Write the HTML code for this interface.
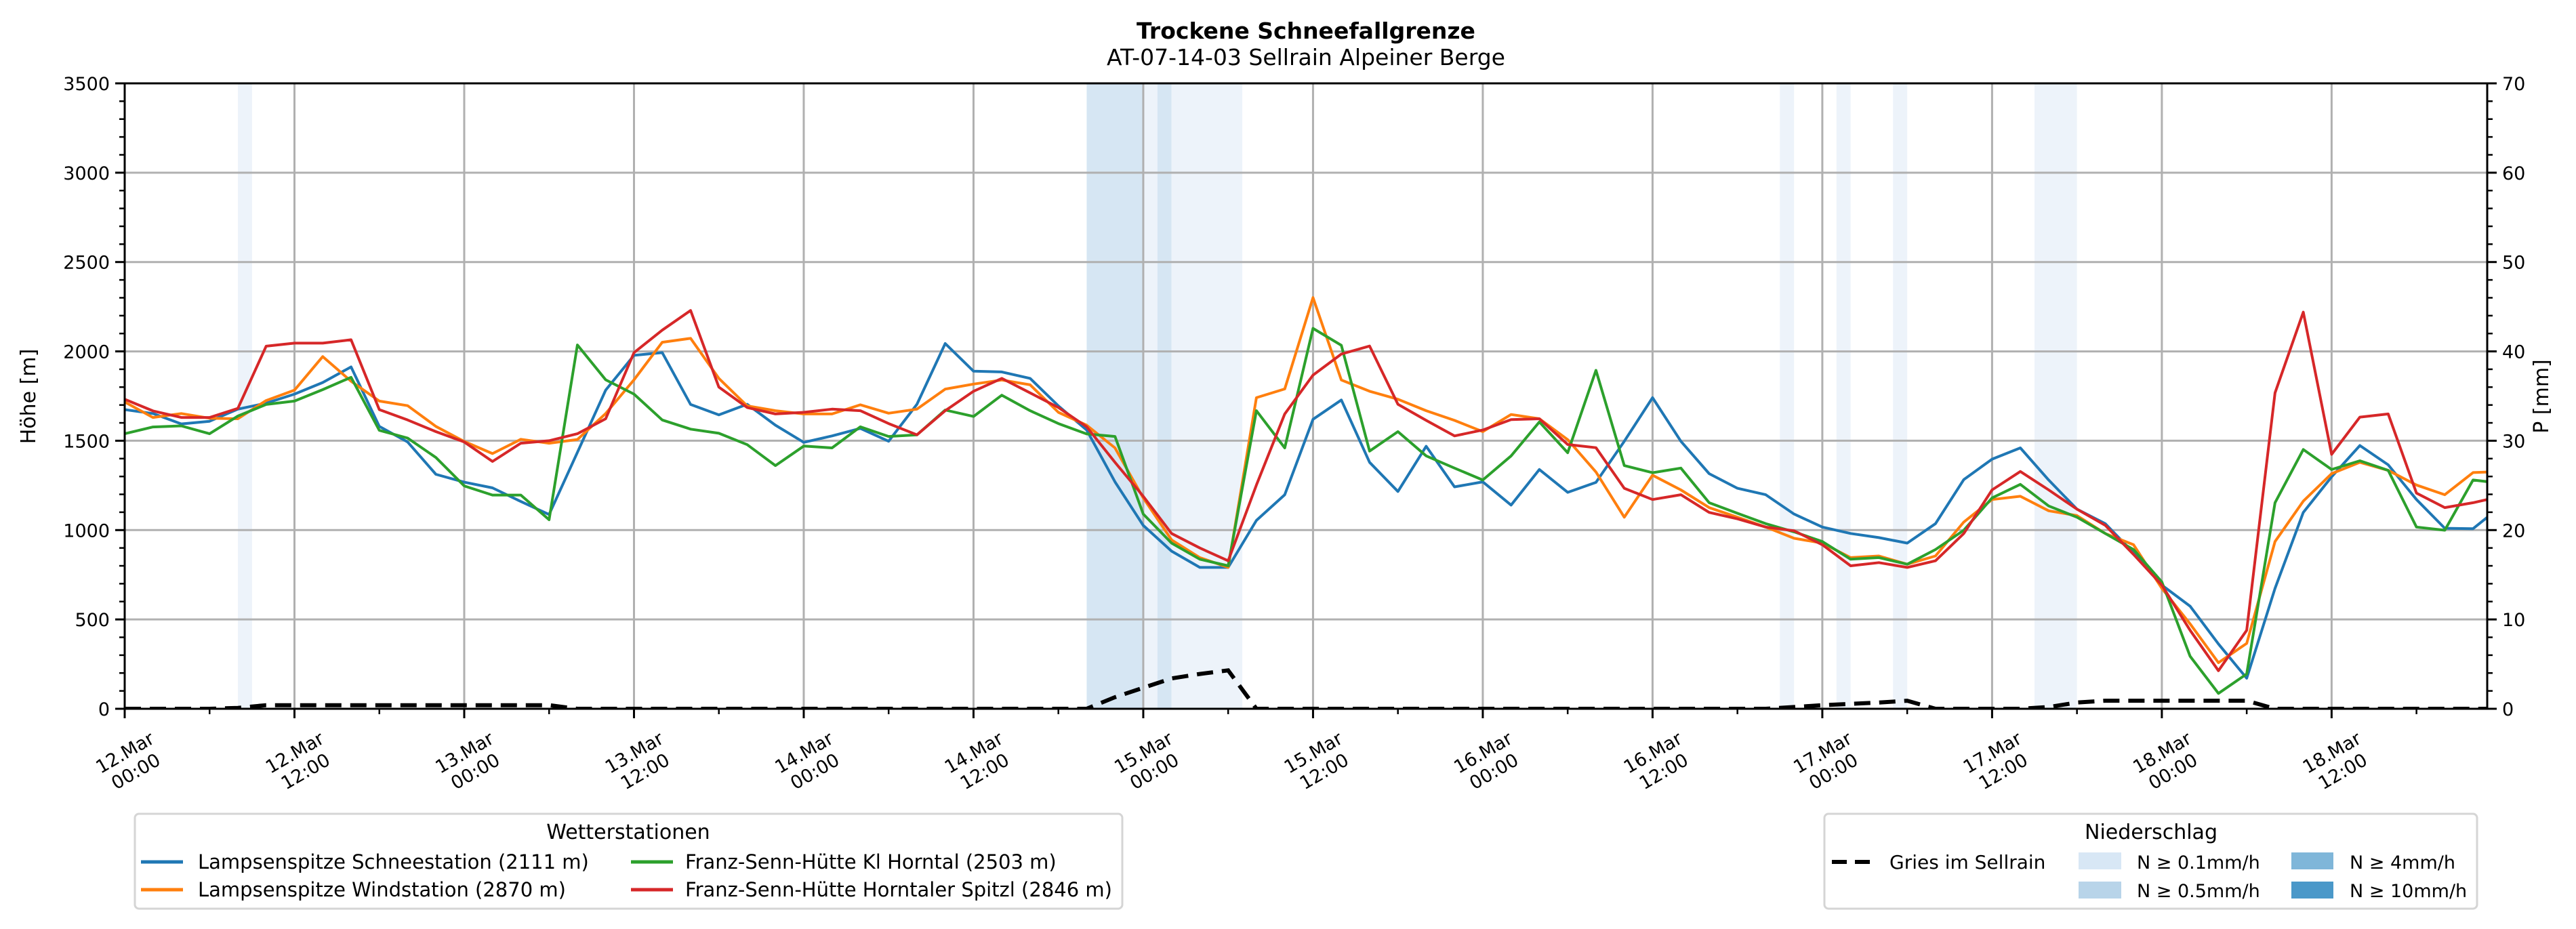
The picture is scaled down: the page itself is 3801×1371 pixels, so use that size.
<!DOCTYPE html>
<html><head><meta charset="utf-8"><style>
html,body{margin:0;padding:0;background:#fff;}
svg{display:block;font-family:"DejaVu Sans","Liberation Sans",sans-serif;}
</style></head><body>
<svg id="chart" width="3801" height="1371" viewBox="0 0 3801 1371" xmlns="http://www.w3.org/2000/svg">
<rect width="3801" height="1371" fill="#fff"/>
<text x="1927" y="57" text-anchor="middle" font-size="33" font-weight="bold">Trockene Schneefallgrenze</text>
<text x="1927" y="96" text-anchor="middle" font-size="33">AT-07-14-03 Sellrain Alpeiner Berge</text>
<defs><clipPath id="plotclip"><rect x="184" y="123" width="3486" height="923"/></clipPath></defs>
<g id="bands" clip-path="url(#plotclip)"></g>
<g id="grid"></g>
<g id="series" clip-path="url(#plotclip)"></g>
<g id="axes"></g>
<text transform="translate(52,585) rotate(-90)" text-anchor="middle" font-size="30">Höhe [m]</text>
<text transform="translate(3760,585) rotate(-90)" text-anchor="middle" font-size="30">P [mm]</text>

<g>
<rect x="199" y="1201" width="1457" height="140" rx="6" fill="#fff" stroke="#d5d5d5" stroke-width="3"/>
<text x="927" y="1238" text-anchor="middle" font-size="30">Wetterstationen</text>
<g><line x1="208" y1="1272" x2="270" y2="1272" stroke="#1f77b4" stroke-width="5"/><text x="292" y="1282" font-size="29">Lampsenspitze Schneestation (2111 m)</text></g>
<g><line x1="208" y1="1313" x2="270" y2="1313" stroke="#ff7f0e" stroke-width="5"/><text x="292" y="1323" font-size="29">Lampsenspitze Windstation (2870 m)</text></g>
<g><line x1="931" y1="1272" x2="993" y2="1272" stroke="#2ca02c" stroke-width="5"/><text x="1011" y="1282" font-size="29">Franz-Senn-Hütte Kl Horntal (2503 m)</text></g>
<g><line x1="931" y1="1313" x2="993" y2="1313" stroke="#d62728" stroke-width="5"/><text x="1011" y="1323" font-size="29">Franz-Senn-Hütte Horntaler Spitzl (2846 m)</text></g>
</g>

<g>
<rect x="2692" y="1201" width="963" height="140" rx="6" fill="#fff" stroke="#d5d5d5" stroke-width="3"/>
<text x="3174" y="1238" text-anchor="middle" font-size="30">Niederschlag</text>
<g><line x1="2703" y1="1272" x2="2763" y2="1272" stroke="#000" stroke-width="6" stroke-dasharray="22 12"/><text x="2788" y="1282" font-size="28">Gries im Sellrain</text></g>
<g><rect x="3067" y="1258" width="63" height="25" fill="#d8e7f5"/><text x="3153" y="1282" font-size="27">N ≥ 0.1mm/h</text></g>
<g><rect x="3067" y="1301" width="63" height="25" fill="#b8d4e9"/><text x="3153" y="1324" font-size="27">N ≥ 0.5mm/h</text></g>
<g><rect x="3381" y="1258" width="62" height="25" fill="#7fb6d9"/><text x="3467" y="1282" font-size="27">N ≥ 4mm/h</text></g>
<g><rect x="3381" y="1301" width="62" height="25" fill="#4a98c9"/><text x="3467" y="1324" font-size="27">N ≥ 10mm/h</text></g>
</g>
</svg>
<script>
// ---- data (2-hourly, starting 12.Mar 00:00) ----
const stepHours = 2;
const blueValues = [1674,1652,1594,1609,1677,1710,1761,1826,1913,1580,1493,1312,1268,1236,1160,1087,1435,1783,1978,1993,1703,1645,1704,1587,1491,1527,1569,1497,1704,2044,1889,1885,1849,1695,1560,1270,1026,882,791,791,1054,1198,1620,1728,1379,1216,1469,1242,1270,1140,1339,1211,1267,1497,1741,1497,1316,1234,1198,1090,1017,981,958,927,1036,1283,1397,1460,1280,1117,1036,873,692,574,363,171,674,1099,1298,1473,1365,1171,1010,1008,1135];
const orangeValues = [1717,1630,1652,1626,1623,1725,1783,1971,1833,1722,1696,1580,1496,1428,1508,1486,1507,1652,1841,2051,2073,1849,1695,1668,1650,1650,1701,1654,1677,1789,1817,1840,1813,1659,1587,1460,1180,945,846,791,1741,1790,2301,1840,1777,1732,1668,1614,1551,1647,1623,1506,1325,1072,1307,1225,1126,1072,1017,954,927,846,855,809,855,1045,1171,1189,1108,1081,981,918,674,475,258,366,936,1162,1316,1379,1334,1252,1198,1322,1328];
const redValues = [1732,1667,1630,1630,1681,2029,2046,2046,2065,1674,1616,1551,1493,1384,1486,1500,1539,1623,1993,2119,2229,1800,1686,1650,1659,1677,1668,1596,1533,1668,1777,1849,1768,1686,1578,1379,1189,981,900,828,1252,1650,1867,1985,2030,1704,1614,1527,1560,1618,1623,1479,1461,1234,1171,1198,1099,1063,1017,996,918,800,818,791,828,981,1225,1328,1225,1117,1027,864,692,439,213,439,1768,2220,1424,1632,1650,1207,1126,1153,1189];
const greenValues = [1539,1577,1583,1539,1638,1703,1722,1786,1855,1558,1515,1406,1247,1196,1196,1058,2036,1841,1761,1616,1565,1542,1478,1361,1470,1460,1578,1524,1533,1672,1636,1755,1668,1596,1538,1524,1090,927,837,800,1668,1460,2129,2034,1442,1551,1415,1347,1280,1415,1605,1433,1894,1361,1321,1347,1153,1094,1036,990,936,837,846,809,891,999,1180,1256,1135,1072,981,891,710,294,86,195,1153,1451,1339,1388,1334,1017,999,1280,1262];
const griesValues = [0,0,0,0,0.1,0.4,0.4,0.4,0.4,0.4,0.4,0.4,0.4,0.4,0.4,0.4,0,0,0,0,0,0,0,0,0,0,0,0,0,0,0,0,0,0,0,1.3,2.35,3.4,3.9,4.3,0,0,0,0,0,0,0,0,0,0,0,0,0,0,0,0,0,0,0,0.2,0.4,0.55,0.7,0.9,0,0,0,0,0.2,0.7,0.9,0.9,0.9,0.9,0.9,0.9,0,0,0,0,0,0,0,0,0];
const bandStarts = [8,68,72,73,74,117,121,125,135];
const bandEnds   = [9,72,73,74,79,118,122,126,138];
const bandLevels = ["0.1","0.5","0.1","0.5","0.1","0.1","0.1","0.1","0.1"];
const xTickLabels = ["12.Mar|00:00","12.Mar|12:00","13.Mar|00:00","13.Mar|12:00","14.Mar|00:00","14.Mar|12:00","15.Mar|00:00","15.Mar|12:00","16.Mar|00:00","16.Mar|12:00","17.Mar|00:00","17.Mar|12:00","18.Mar|00:00","18.Mar|12:00"];
const yTickLabels = ["0","500","1000","1500","2000","2500","3000","3500"];
const y2TickLabels = ["0","10","20","30","40","50","60","70"];

// ---- scales ----
const L=184,R=3670,T=123,B=1046,HMAX=167;
const xs = h => L + h/HMAX*(R-L);
const ys = v => B - v/3500*(B-T);
const y2s = v => B - v/70*(B-T);
const NS="http://www.w3.org/2000/svg";
function mk(tag, attrs, parent){const e=document.createElementNS(NS,tag);for(const k in attrs)e.setAttribute(k,attrs[k]);parent.appendChild(e);return e;}
const bandsG=document.getElementById('bands'), gridG=document.getElementById('grid'), seriesG=document.getElementById('series'), axesG=document.getElementById('axes');
const bandColor={"0.1":"#edf3fa","0.5":"#d6e6f3"};

bandStarts.forEach((s,i)=>{
  const r=mk('rect',{x:xs(s),y:T,width:xs(bandEnds[i])-xs(s),height:B-T,fill:bandColor[bandLevels[i]]},bandsG);
  
  
});
yTickLabels.forEach((lab,i)=>{
  const v=+lab; if(v===0||v===3500) return;
  const g=mk('line',{x1:L,x2:R,y1:ys(v),y2:ys(v),stroke:'#b0b0b0','stroke-width':3},gridG);
  
  
});
xTickLabels.forEach((lab,i)=>{
  if(i===0) return;
  const g=mk('line',{x1:xs(i*12),x2:xs(i*12),y1:T,y2:B,stroke:'#b0b0b0','stroke-width':3},gridG);
  
  
});
function pts(arr,sc){return arr.map((v,i)=>xs(i*stepHours).toFixed(1)+','+sc(v).toFixed(1)).join(' ');}
const ser=[[blueValues,'#1f77b4','series-lampsenspitze-schnee'],[orangeValues,'#ff7f0e','series-lampsenspitze-wind'],[greenValues,'#2ca02c','series-franz-senn-kl-horntal'],[redValues,'#d62728','series-franz-senn-spitzl']];
ser.forEach(s=>{
  const p=mk('polyline',{points:pts(s[0],ys),fill:'none',stroke:s[1],'stroke-width':4,'stroke-linejoin':'round'},seriesG);
  
  
});
const gl=mk('polyline',{points:pts(griesValues,y2s),fill:'none',stroke:'#000','stroke-width':6,'stroke-dasharray':'24 13'},seriesG);


const fr=mk('rect',{x:L,y:T,width:R-L,height:B-T,fill:'none',stroke:'#000','stroke-width':3},axesG);


for(let v=0;v<=3500;v+=100){
  const major=v%500===0;
  const t=mk('line',{x1:L,x2:L-(major?14:8),y1:ys(v),y2:ys(v),stroke:'#000','stroke-width':major?3:2.5},axesG);
  
  
}
yTickLabels.forEach(lab=>{
  const t=mk('text',{x:L-22,y:ys(+lab)+10,'text-anchor':'end','font-size':27},axesG);
  t.textContent=lab;
  
  
});
for(let v=0;v<=70;v+=2){
  const major=v%10===0;
  const t=mk('line',{x1:R,x2:R+(major?14:8),y1:y2s(v),y2:y2s(v),stroke:'#000','stroke-width':major?3:2.5},axesG);
  
  
}
y2TickLabels.forEach(lab=>{
  const t=mk('text',{x:R+22,y:y2s(+lab)+10,'text-anchor':'start','font-size':27},axesG);
  t.textContent=lab;
  
  
});
for(let h=0;h<=HMAX;h+=6){
  const major=h%12===0;
  const t=mk('line',{x1:xs(h),x2:xs(h),y1:B,y2:B+(major?14:8),stroke:'#000','stroke-width':major?3:2.5},axesG);
  
  
}
xTickLabels.forEach((lab,i)=>{
  const parts=lab.split('|');
  const g=mk('g',{transform:'translate('+(xs(i*12)+8)+',1124) rotate(-30)'},axesG);
  
  
  const t1=mk('text',{x:0,y:-6,'text-anchor':'middle','font-size':27},g);t1.textContent=parts[0];
  const t2=mk('text',{x:0,y:26,'text-anchor':'middle','font-size':27},g);t2.textContent=parts[1];
});
</script>
</body></html>
